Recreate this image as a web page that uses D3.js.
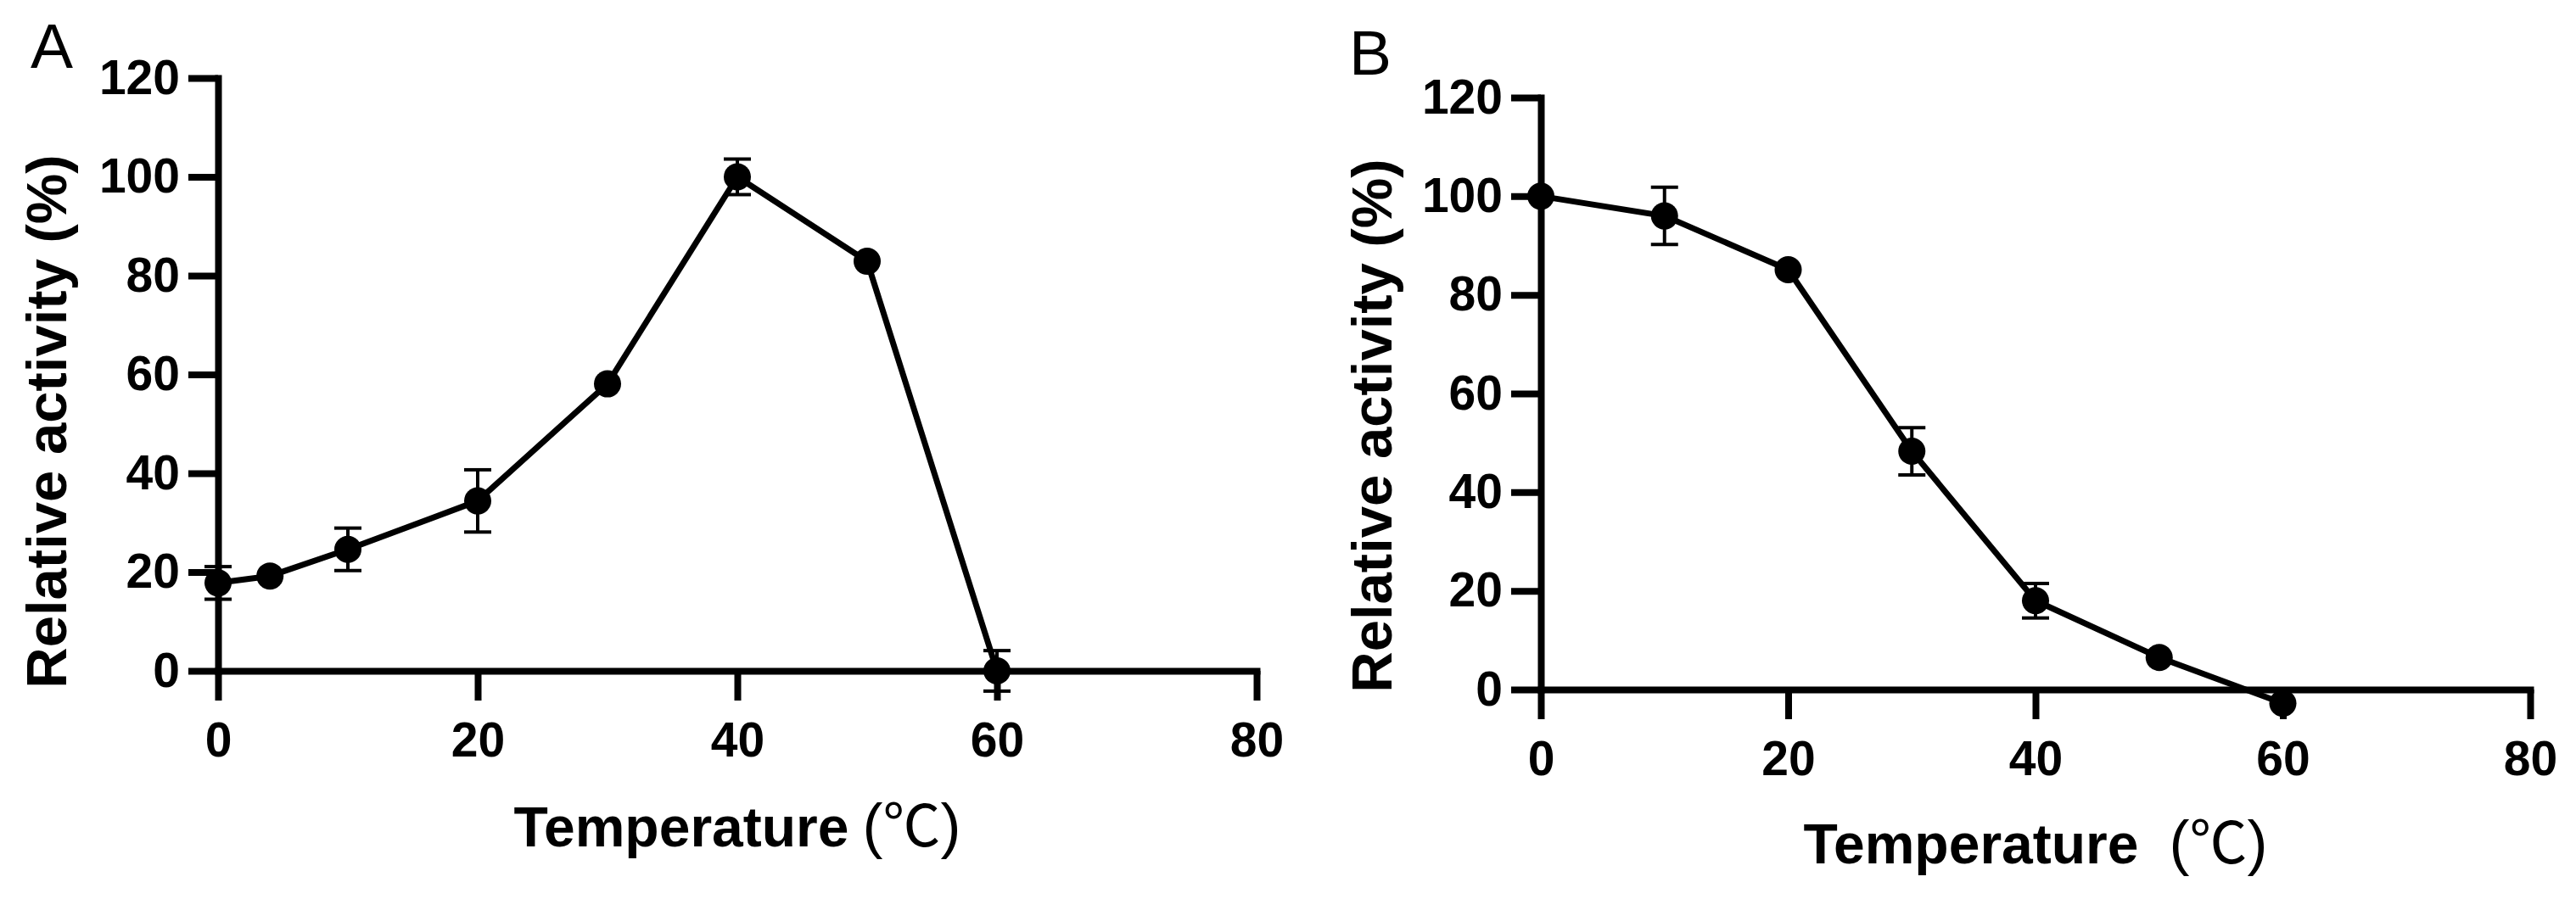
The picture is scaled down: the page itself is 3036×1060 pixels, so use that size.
<!DOCTYPE html>
<html>
<head>
<meta charset="utf-8">
<script src="https://cdn.jsdelivr.net/npm/d3@7"></script>
<style>
  html, body { margin: 0; padding: 0; background: #fff; }
  svg { display: block; }
  .axis text { font-family: "Liberation Sans", Arial, sans-serif; font-weight: bold; font-size: 57px; fill: #000; }
  .axis path, .axis line { stroke: #000; stroke-width: 8; }
  .axis path { stroke-linecap: square; }
</style>
</head>
<body>
<svg id="stage" width="3036" height="1060"></svg>
<script>
// panel A - activity at different temperatures
const tempA = [0, 4, 10, 20, 30, 40, 50, 60]
const activityA = [17.8, 19.2, 24.6, 34.4, 58.1, 100, 82.9, 0]
const errA = [3.3, 0, 4.3, 6.3, 0, 3.6, 0, 4.1]

// panel B
const tempB = [0, 10, 20, 30, 40, 50, 60]
const activityB = [100, 96.0, 85.1, 48.3, 18.0, 6.5, -2.8]
const errB = [0, 5.8, 0, 4.8, 3.5, 0, 0]

const xTicks = [0, 20, 40, 60, 80]
const yTicks = [0, 20, 40, 60, 80, 100, 120]
const xLabel = 'Temperature'
const unitLabel = '℃'
const yLabel = 'Relative activity (%)'

const svg = d3.select('#stage')

const drawPanel = (opts) => {
  const { temps, values, errs } = opts
  const xScale = d3.scaleLinear().domain([0, 80]).range([opts.left, opts.right])
  const yScale = d3.scaleLinear().domain([0, 120]).range([opts.bottom, opts.top])
  const tickSize = 35

  const g = svg.append('g')

  g.append('g')
    .attr('class', 'axis')
    .attr('transform', `translate(0,${yScale(0)})`)
    .call(d3.axisBottom(xScale)
      .tickValues(xTicks)
      .tickSize(tickSize)
      .tickSizeOuter(0)
      .tickPadding(26)
      .tickFormat(d3.format('d')))

  g.append('g')
    .attr('class', 'axis')
    .attr('transform', `translate(${xScale(0)},0)`)
    .call(d3.axisLeft(yScale)
      .tickValues(yTicks)
      .tickSize(tickSize)
      .tickSizeOuter(0)
      .tickPadding(10)
      .tickFormat(d3.format('d')))

  // panel letter
  g.append('text')
    .attr('x', opts.letterX)
    .attr('y', opts.letterY)
    .style('font-family', '"Liberation Sans", Arial, sans-serif')
    .style('font-size', '75px')
    .text(opts.letter)

  // x title, unit part is not bold in the original
  const xt = g.append('text')
    .attr('x', (xScale(0) + xScale(80)) / 2)
    .attr('y', opts.xTitleY)
    .style('text-anchor', 'middle')
    .style('font-family', '"Liberation Sans", Arial, sans-serif')
    .style('font-size', '66px')
  xt.append('tspan').style('font-weight', 'bold').text(xLabel)
  xt.append('tspan')
    .attr('dx', opts.unitGap)
    .style('font-size', '72px')
    .text('(')
  xt.append('tspan')
    .style('font-family', '"Noto Sans CJK SC", sans-serif')
    .style('font-size', '68px')
    .text(unitLabel)
  xt.append('tspan')
    .style('font-size', '72px')
    .text(')')

  // y title
  g.append('text')
    .attr('transform', `translate(${opts.yTitleX},${opts.yTitleY}) rotate(-90)`)
    .style('text-anchor', 'middle')
    .style('font-family', '"Liberation Sans", Arial, sans-serif')
    .style('font-weight', 'bold')
    .style('font-size', '67px')
    .text(yLabel)

  const pts = temps.map((t, i) => ({ x: t, y: values[i], e: errs[i] }))

  // error bars
  const bars = g.selectAll('.err')
    .data(pts.filter(d => d.e > 0))
    .enter()
    .append('g')
    .attr('class', 'err')
    .attr('stroke', '#000')
    .attr('stroke-width', 4)
  bars.append('line')
    .attr('x1', d => xScale(d.x)).attr('x2', d => xScale(d.x))
    .attr('y1', d => yScale(d.y + d.e)).attr('y2', d => yScale(d.y - d.e))
  bars.append('line')
    .attr('x1', d => xScale(d.x) - 16).attr('x2', d => xScale(d.x) + 16)
    .attr('y1', d => yScale(d.y + d.e)).attr('y2', d => yScale(d.y + d.e))
  bars.append('line')
    .attr('x1', d => xScale(d.x) - 16).attr('x2', d => xScale(d.x) + 16)
    .attr('y1', d => yScale(d.y - d.e)).attr('y2', d => yScale(d.y - d.e))

  const line = d3.line()
    .x(d => xScale(d.x))
    .y(d => yScale(d.y))

  g.append('path')
    .datum(pts)
    .attr('fill', 'none')
    .attr('stroke', '#000')
    .attr('stroke-width', 7)
    .attr('stroke-linejoin', 'round')
    .attr('d', line)

  g.selectAll('.dot')
    .data(pts)
    .enter()
    .append('circle')
    .attr('class', 'dot')
    .attr('cx', d => xScale(d.x))
    .attr('cy', d => yScale(d.y))
    .attr('r', 16)
    .attr('fill', '#000')
}

drawPanel({
  temps: tempA, values: activityA, errs: errA,
  left: 257, right: 1481, bottom: 791, top: 92,
  letter: 'A', letterX: 36, letterY: 80,
  xTitleY: 998, unitGap: 16,
  yTitleX: 78, yTitleY: 497
})

drawPanel({
  temps: tempB, values: activityB, errs: errB,
  left: 1816, right: 2982, bottom: 813, top: 115,
  letter: 'B', letterX: 1590, letterY: 88,
  xTitleY: 1018, unitGap: 36,
  yTitleX: 1640, yTitleY: 502
})
</script>
</body>
</html>
